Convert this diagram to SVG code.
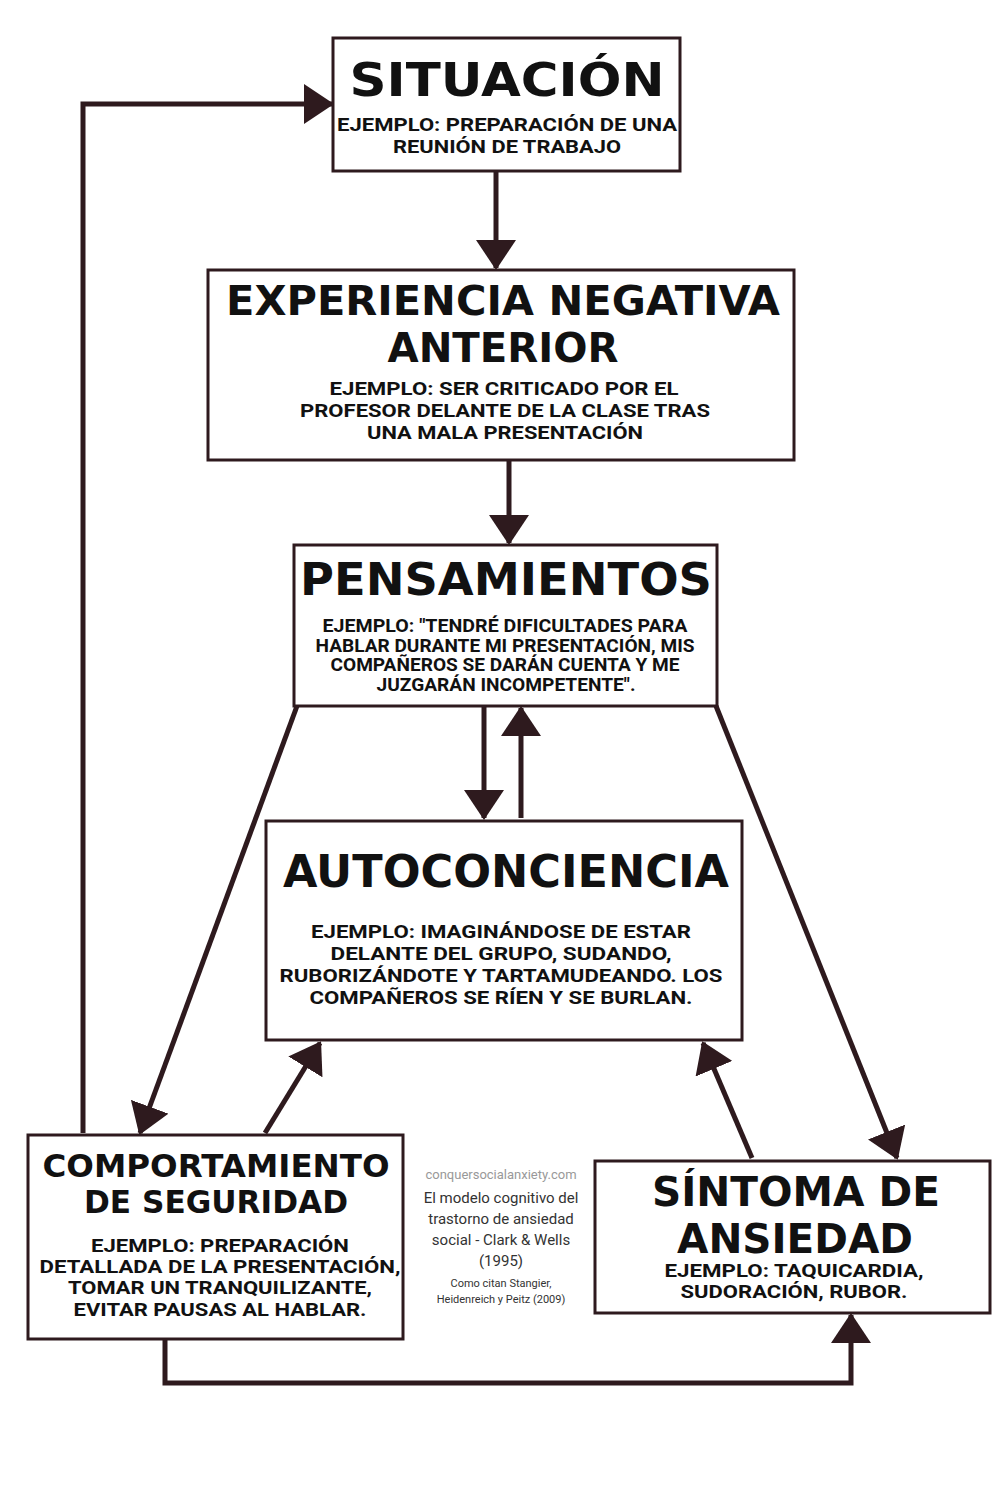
<svg xmlns="http://www.w3.org/2000/svg" width="1000" height="1500" viewBox="0 0 1000 1500">
<style>
.box{fill:#fff;stroke:#2e1a1e;stroke-width:3}
.h{font-family:"DejaVu Sans",sans-serif;font-weight:bold;fill:#111;text-anchor:middle}
.b{font-family:Roboto,"Liberation Sans",sans-serif;font-weight:bold;fill:#111;font-size:19px;text-anchor:middle}
.c{font-family:Roboto,"Liberation Sans",sans-serif;fill:#333;text-anchor:middle}
.ln{fill:none;stroke:#2e1a1e;stroke-width:5}
</style>
<defs>
<marker id="ah" markerUnits="userSpaceOnUse" markerWidth="30" markerHeight="40" refX="28" refY="20" orient="auto"><path d="M0,0 L30,20 L0,40z" fill="#2e1a1e"/></marker>
</defs>
<rect width="1000" height="1500" fill="#fff"/>
<g id="connectors">
<line class="ln" x1="496" y1="171" x2="496" y2="268" marker-end="url(#ah)"/>
<line class="ln" x1="509" y1="460" x2="509" y2="543" marker-end="url(#ah)"/>
<line class="ln" x1="484" y1="706" x2="484" y2="818" marker-end="url(#ah)"/>
<line class="ln" x1="521" y1="818" x2="521" y2="708" marker-end="url(#ah)"/>
<line class="ln" x1="297" y1="706" x2="140" y2="1133" marker-end="url(#ah)"/>
<line class="ln" x1="716" y1="706" x2="897" y2="1158" marker-end="url(#ah)"/>
<line class="ln" x1="265" y1="1133" x2="320" y2="1043" marker-end="url(#ah)"/>
<line class="ln" x1="752" y1="1158" x2="703" y2="1043" marker-end="url(#ah)"/>
<polyline class="ln" points="83,1133 83,104 332,104" marker-end="url(#ah)"/>
<polyline class="ln" points="165,1339 165,1383 851,1383 851,1315" marker-end="url(#ah)"/>
</g>
<g id="situacion">
<rect class="box" x="333" y="38" width="347" height="133"/>
<text class="h" x="507" y="96" font-size="46" textLength="315" lengthAdjust="spacingAndGlyphs">SITUACIÓN</text>
<text class="b" x="507" y="131" textLength="340" lengthAdjust="spacingAndGlyphs">EJEMPLO: PREPARACIÓN DE UNA</text>
<text class="b" x="507" y="153" textLength="228" lengthAdjust="spacingAndGlyphs">REUNIÓN DE TRABAJO</text>
</g>
<g id="experiencia">
<rect class="box" x="208" y="270" width="586" height="190"/>
<text class="h" x="503" y="315" font-size="40" textLength="554" lengthAdjust="spacingAndGlyphs">EXPERIENCIA NEGATIVA</text>
<text class="h" x="503" y="362" font-size="40" textLength="231" lengthAdjust="spacingAndGlyphs">ANTERIOR</text>
<text class="b" x="504" y="395" textLength="349" lengthAdjust="spacingAndGlyphs">EJEMPLO: SER CRITICADO POR EL</text>
<text class="b" x="505" y="417" textLength="410" lengthAdjust="spacingAndGlyphs">PROFESOR DELANTE DE LA CLASE TRAS</text>
<text class="b" x="505" y="439" textLength="276" lengthAdjust="spacingAndGlyphs">UNA MALA PRESENTACIÓN</text>
</g>
<g id="pensamientos">
<rect class="box" x="294" y="545" width="423" height="161"/>
<text class="h" x="506" y="595" font-size="44" textLength="412" lengthAdjust="spacingAndGlyphs">PENSAMIENTOS</text>
<text class="b" x="505" y="632" font-size="15.5" textLength="365" lengthAdjust="spacingAndGlyphs">EJEMPLO: "TENDRÉ DIFICULTADES PARA</text>
<text class="b" x="505" y="652" font-size="15.5" textLength="379" lengthAdjust="spacingAndGlyphs">HABLAR DURANTE MI PRESENTACIÓN, MIS</text>
<text class="b" x="505" y="671" font-size="15.5" textLength="349" lengthAdjust="spacingAndGlyphs">COMPAÑEROS SE DARÁN CUENTA Y ME</text>
<text class="b" x="506" y="691" font-size="15.5" textLength="259" lengthAdjust="spacingAndGlyphs">JUZGARÁN INCOMPETENTE".</text>
</g>
<g id="autoconciencia">
<rect class="box" x="266" y="821" width="476" height="219"/>
<text class="h" x="506" y="887" font-size="44" textLength="446" lengthAdjust="spacingAndGlyphs">AUTOCONCIENCIA</text>
<text class="b" x="501" y="938" textLength="380" lengthAdjust="spacingAndGlyphs">EJEMPLO: IMAGINÁNDOSE DE ESTAR</text>
<text class="b" x="501" y="960" textLength="341" lengthAdjust="spacingAndGlyphs">DELANTE DEL GRUPO, SUDANDO,</text>
<text class="b" x="501" y="982" textLength="443" lengthAdjust="spacingAndGlyphs">RUBORIZÁNDOTE Y TARTAMUDEANDO. LOS</text>
<text class="b" x="501" y="1004" textLength="383" lengthAdjust="spacingAndGlyphs">COMPAÑEROS SE RÍEN Y SE BURLAN.</text>
</g>
<g id="comportamiento">
<rect class="box" x="28" y="1135" width="375" height="204"/>
<text class="h" x="216" y="1177" font-size="32" textLength="347" lengthAdjust="spacingAndGlyphs">COMPORTAMIENTO</text>
<text class="h" x="216" y="1213" font-size="32" textLength="264" lengthAdjust="spacingAndGlyphs">DE SEGURIDAD</text>
<text class="b" x="220" y="1252" textLength="258" lengthAdjust="spacingAndGlyphs">EJEMPLO: PREPARACIÓN</text>
<text class="b" x="220" y="1273" textLength="361" lengthAdjust="spacingAndGlyphs">DETALLADA DE LA PRESENTACIÓN,</text>
<text class="b" x="220" y="1294" textLength="304" lengthAdjust="spacingAndGlyphs">TOMAR UN TRANQUILIZANTE,</text>
<text class="b" x="220" y="1316" textLength="293" lengthAdjust="spacingAndGlyphs">EVITAR PAUSAS AL HABLAR.</text>
</g>
<g id="sintoma">
<rect class="box" x="595" y="1161" width="395" height="152"/>
<text class="h" x="796" y="1206" font-size="40" textLength="288" lengthAdjust="spacingAndGlyphs">SÍNTOMA DE</text>
<text class="h" x="795" y="1253" font-size="40" textLength="236" lengthAdjust="spacingAndGlyphs">ANSIEDAD</text>
<text class="b" x="794" y="1277" textLength="259" lengthAdjust="spacingAndGlyphs">EJEMPLO: TAQUICARDIA,</text>
<text class="b" x="794" y="1298" textLength="227" lengthAdjust="spacingAndGlyphs">SUDORACIÓN, RUBOR.</text>
</g>
<g id="credits">
<text class="c" x="501" y="1179" font-size="13" style="fill:#999">conquersocialanxiety.com</text>
<text class="c" x="501" y="1203" font-size="15">El modelo cognitivo del</text>
<text class="c" x="501" y="1224" font-size="15">trastorno de ansiedad</text>
<text class="c" x="501" y="1245" font-size="15">social - Clark &amp; Wells</text>
<text class="c" x="501" y="1266" font-size="15">(1995)</text>
<text class="c" x="501" y="1287" font-size="11">Como citan Stangier,</text>
<text class="c" x="501" y="1303" font-size="11">Heidenreich y Peitz (2009)</text>
</g>
</svg>
